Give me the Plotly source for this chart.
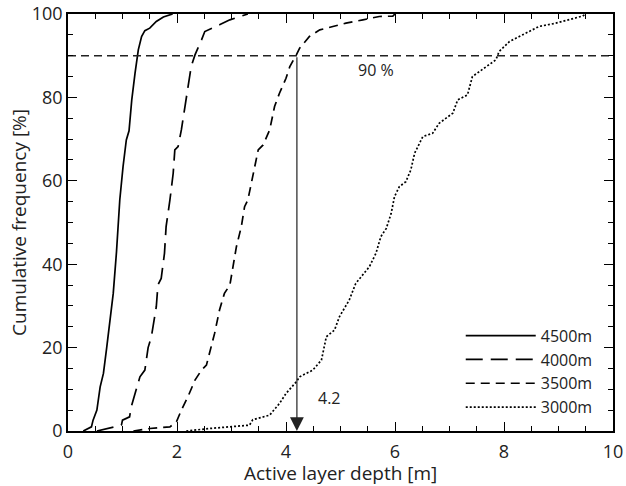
import plotly.graph_objects as go

# cumulative frequency curves of active layer depth, per elevation
x_4500 = [0.28, 0.43, 0.46, 0.53, 0.59, 0.65, 0.71, 0.77, 0.83, 0.89, 0.95, 1.01, 1.07, 1.12,
          1.17, 1.23, 1.29, 1.35, 1.41, 1.50, 1.62, 1.75, 1.87, 1.92]
y_4500 = [0, 1, 2.6, 5, 10.6, 13.8, 20, 26.6, 33, 43, 55.4, 63.4, 69.8, 72,
          79.4, 85.8, 91.4, 94.6, 96, 96.6, 98.2, 99.3, 99.8, 100]

x_4000 = [0.53, 0.83, 0.98, 1.0, 1.13, 1.16, 1.25, 1.32, 1.41, 1.47, 1.53, 1.62, 1.65, 1.71,
          1.77, 1.80, 1.87, 1.93, 1.96, 2.02, 2.08, 2.14, 2.20, 2.26, 2.33, 2.39, 2.45, 2.51,
          2.66, 2.78, 2.97, 3.21, 3.30]
y_4000 = [0, 1, 1.4, 2.6, 3.4, 5.8, 9.8, 13, 14.6, 20, 22.6, 29.8, 35, 36.6,
          42.6, 49, 55.4, 61.8, 67.4, 68.2, 72.2, 77, 81.8, 87.4, 90.2, 91.8, 93.8, 95.8,
          96.6, 97.4, 98.6, 99.5, 100]

x_3500 = [1.20, 1.5, 1.87, 1.99, 2.08, 2.20, 2.33, 2.45, 2.54, 2.63, 2.69, 2.78, 2.87, 2.97,
          3.03, 3.09, 3.18, 3.24, 3.30, 3.40, 3.49, 3.58, 3.70, 3.79, 3.88, 4.0, 4.07, 4.19,
          4.25, 4.43, 4.62, 4.86, 5.10, 5.41, 5.71, 5.96, 6.0]
y_3500 = [0, 0.6, 1, 2.2, 5, 8.2, 12.2, 14.6, 15.8, 20, 23.4, 29, 33, 35,
          39.4, 44.2, 49, 53.8, 55.4, 61.8, 67.4, 68.6, 72.2, 77.8, 81, 84.6, 87.4, 90.2,
          91.8, 94.6, 96.2, 97, 97.8, 98.6, 99.4, 99.5, 100]

x_3000 = [2.17, 2.6, 3.33, 3.39, 3.70, 3.88, 4.0, 4.19, 4.25, 4.49, 4.65, 4.74, 4.89, 4.98,
          5.16, 5.28, 5.53, 5.65, 5.74, 5.84, 5.93, 5.99, 6.08, 6.20, 6.29, 6.36, 6.51, 6.69,
          6.81, 7.06, 7.15, 7.33, 7.42, 7.67, 7.85, 7.91, 8.1, 8.28, 8.52, 8.64, 8.95, 9.19,
          9.44, 9.50]
y_3000 = [0, 0.6, 1.4, 2.7, 3.8, 6.6, 9, 11.8, 13, 14.6, 17, 22.6, 24.2, 27.4,
          31.4, 35.4, 39.4, 42.6, 46.6, 48.6, 52.2, 56.2, 58.6, 59.8, 62.6, 66.6, 70.6, 71.4,
          73.8, 76.2, 79.4, 80.6, 85, 87.4, 89, 91, 93.4, 94.6, 96.2, 97, 97.8, 98.6,
          99.5, 100]

threshold = 90        # percent line
depth_at_90 = 4.2     # 3500m depth at 90 %

FONT = "Open Sans"

series = [
    ("4500m", x_4500, y_4500, "solid"),
    ("4000m", x_4000, y_4000, "17px,8px"),
    ("3500m", x_3500, y_3500, "9px,6px"),
    ("3000m", x_3000, y_3000, "2px,2px"),
]

fig = go.Figure()
for name, xs, ys, dash in series:
    fig.add_trace(go.Scatter(x=xs, y=ys, mode="lines", name=name, cliponaxis=False,
                             line=dict(color="black", width=1.7, dash=dash)))

# 90 % reference line
fig.add_trace(go.Scatter(x=[0, 10], y=[threshold, threshold], mode="lines", showlegend=False,
                         line=dict(color="#222", width=1.5, dash="8px,5px")))

# arrow down to depth at 90 %
fig.add_annotation(x=depth_at_90, y=0, ax=depth_at_90, ay=threshold, xref="x", yref="y",
                   axref="x", ayref="y", showarrow=True, arrowhead=2, arrowsize=2.3,
                   arrowwidth=1.2, arrowcolor="#222", text="")
fig.add_annotation(x=5.66, y=86.5, text="90 %", showarrow=False,
                   font=dict(family=FONT, size=16, color="#222"))
fig.add_annotation(x=4.8, y=8, text=str(depth_at_90), showarrow=False,
                   font=dict(family=FONT, size=16, color="#222"))

# x axis title as a paper annotation (axis title standoff is ignored without automargin)
fig.add_annotation(x=0.5, y=0, xref="paper", yref="paper", yanchor="middle", yshift=-42,
                   text="Active layer depth [m]", showarrow=False,
                   font=dict(family=FONT, size=19, color="#222"))

axis_common = dict(showline=True, linecolor="black", linewidth=1.5, mirror="ticks",
                   ticks="inside", ticklen=9, tickwidth=1.3, tickcolor="black",
                   showgrid=False, zeroline=False, automargin=False,
                   ticklabeloverflow="allow",
                   tickfont=dict(family=FONT, size=18, color="#222"))

fig.update_xaxes(range=[0, 10], dtick=2, ticklabelstandoff=4,
                 minor=dict(dtick=0.5, ticks="inside", ticklen=5, tickcolor="black"),
                 **axis_common)
fig.update_yaxes(range=[0, 100], dtick=20,
                 title=dict(text="Cumulative frequency [%]",
                            font=dict(family=FONT, size=19, color="#222"), standoff=0),
                 minor=dict(dtick=5, ticks="inside", ticklen=5, tickcolor="black"),
                 **axis_common)

fig.update_layout(
    width=626, height=486,
    margin=dict(l=68, r=13, t=14, b=55),
    plot_bgcolor="white", paper_bgcolor="white",
    font=dict(family=FONT, color="#222"),
    legend=dict(x=0.972, y=0.015, xanchor="right", yanchor="bottom", bgcolor="rgba(0,0,0,0)",
                font=dict(family=FONT, size=16, color="#222"), itemwidth=70,
                tracegroupgap=0),
)

# drop the page's default body margin so the figure fills the window exactly
fig.write_html("out.html", config={"displayModeBar": False},
               post_script="document.body.style.margin='0';")
